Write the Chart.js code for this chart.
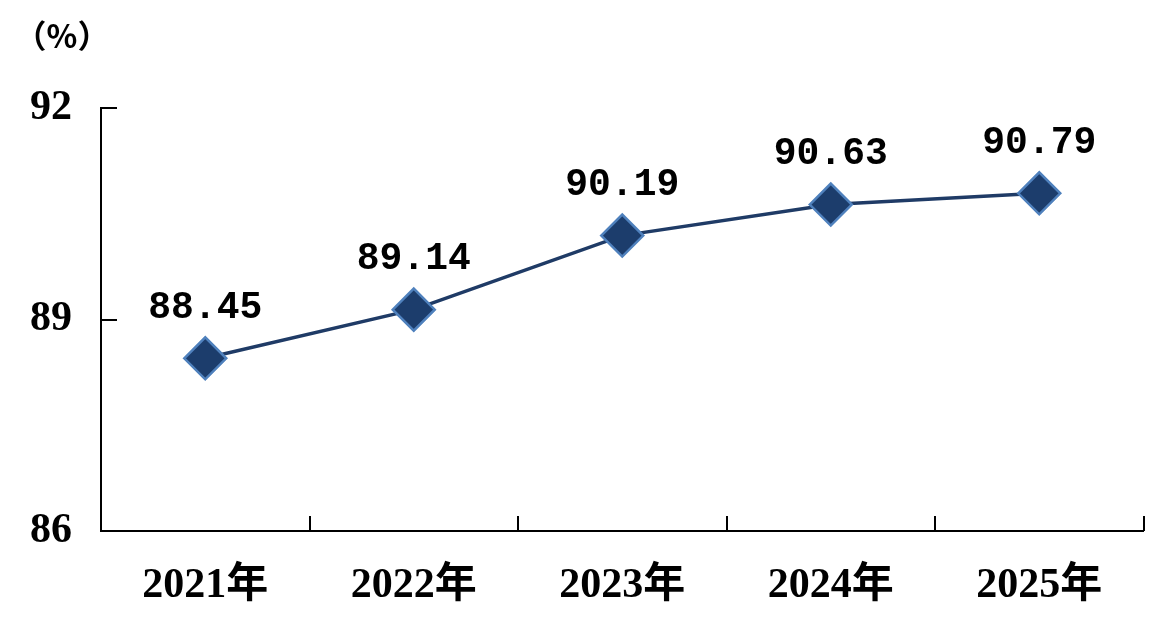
<!DOCTYPE html>
<html>
<head>
<meta charset="utf-8">
<script src="https://cdn.jsdelivr.net/npm/chart.js@4"></script>
<style>
  html, body { margin: 0; padding: 0; background: #fff; }
  #wrap { width: 1167px; height: 624px; }
</style>
</head>
<body>
<div id="wrap"><canvas id="chart" width="1167" height="624"></canvas></div>
<script>
// data
var years = ['2021年', '2022年', '2023年', '2024年', '2025年'];
var rates = [88.45, 89.14, 90.19, 90.63, 90.79];
var yTicks = [86, 89, 92];
var unitText = '（%）';

var serif = '"Liberation Serif", "Noto Sans CJK SC", serif';

// ticks point inward, and the unit / value labels
var extras = {
  id: 'extras',
  afterDraw: function (chart) {
    var c = chart.ctx;
    var xs = chart.scales.x, ys = chart.scales.y;
    var area = chart.chartArea;
    c.save();
    c.strokeStyle = '#000';
    c.lineWidth = 2;
    c.beginPath();
    for (var i = 1; i <= years.length; i++) {
      var px = Math.round(xs.getPixelForValue(i - 0.5));
      c.moveTo(px, area.bottom);
      c.lineTo(px, area.bottom - 15);
    }
    yTicks.forEach(function (v) {
      if (v === yTicks[0]) return;
      var py = Math.round(ys.getPixelForValue(v));
      c.moveTo(area.left, py);
      c.lineTo(area.left + 16, py);
    });
    c.stroke();

    c.fillStyle = '#000';
    c.font = 'bold 32px "Noto Sans CJK SC", sans-serif';
    c.textAlign = 'center';
    c.textBaseline = 'middle';
    c.fillText(unitText, 62, 36);

    c.font = 'bold 38px "Liberation Mono", monospace';
    var meta = chart.getDatasetMeta(0);
    meta.data.forEach(function (pt, i) {
      c.fillText(rates[i].toFixed(2), pt.x, pt.y - 50);
    });
    c.restore();
  }
};

new Chart(document.getElementById('chart').getContext('2d'), {
  type: 'line',
  data: {
    labels: years,
    datasets: [{
      data: rates,
      borderColor: '#1F3B66',
      borderWidth: 3.5,
      tension: 0,
      pointStyle: 'rectRot',
      pointRadius: 21,
      pointBackgroundColor: '#1C3D6C',
      pointBorderColor: '#4F81BD',
      pointBorderWidth: 2.5
    }]
  },
  options: {
    responsive: false,
    animation: false,
    devicePixelRatio: 1,
    layout: { padding: { top: 108, right: 22, left: 0, bottom: 0 } },
    plugins: { legend: { display: false }, tooltip: { enabled: false } },
    scales: {
      x: {
        type: 'category',
        offset: true,
        grid: { display: false, drawTicks: false },
        border: { display: true, color: '#000', width: 2 },
        ticks: { color: '#000', padding: 30, font: { family: serif, size: 42, weight: 'bold' } },
        afterFit: function (s) { s.height = 93; }
      },
      y: {
        min: 86,
        max: 92,
        grid: { display: false, drawTicks: false },
        border: { display: true, color: '#000', width: 2 },
        afterBuildTicks: function (s) { s.ticks = yTicks.map(function (v) { return { value: v }; }); },
        ticks: { color: '#000', padding: 29, font: { family: serif, size: 42, weight: 'bold' } },
        afterFit: function (s) { s.width = 101; }
      }
    }
  },
  plugins: [extras]
});
</script>
</body>
</html>
